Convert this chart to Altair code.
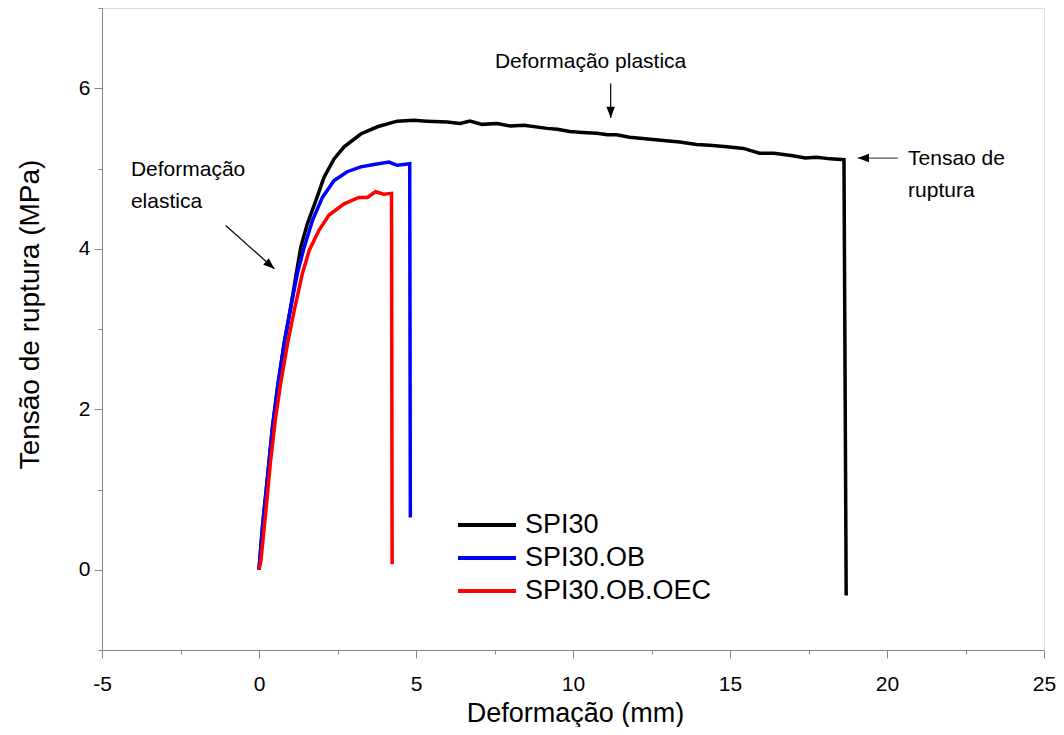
import altair as alt
import pandas as pd

# ---------------- data ----------------
series_names = ["SPI30", "SPI30.OB", "SPI30.OB.OEC"]
series_colors = ["#000000", "#0000ff", "#ff0000"]

spi30_x = [0.0, 0.11, 0.27, 0.43, 0.59, 0.80, 1.01, 1.17, 1.33, 1.54, 1.81, 2.07, 2.39,
           2.71, 3.24, 3.77, 4.40, 4.93, 5.35, 5.99, 6.40, 6.72, 7.10, 7.58, 8.00, 8.44,
           9.17, 9.50, 9.90, 10.30, 10.76, 11.10, 11.39, 11.80, 12.30, 12.88, 13.40,
           13.93, 14.35, 14.90, 15.43, 15.94, 16.40, 17.00, 17.40, 17.75, 18.20, 18.63,
           18.70]
spi30_y = [0.0, 0.53, 1.15, 1.78, 2.27, 2.82, 3.27, 3.65, 4.02, 4.31, 4.60, 4.89, 5.12,
           5.27, 5.43, 5.52, 5.59, 5.60, 5.59, 5.58, 5.56, 5.59, 5.55, 5.56, 5.53, 5.54,
           5.50, 5.49, 5.46, 5.45, 5.44, 5.42, 5.42, 5.39, 5.37, 5.35, 5.33,
           5.30, 5.29, 5.27, 5.25, 5.19, 5.19, 5.16, 5.13, 5.14, 5.12, 5.11,
           -0.32]

spi30ob_x = [0.0, 0.11, 0.27, 0.43, 0.59, 0.80, 1.01, 1.22, 1.44, 1.70, 2.02, 2.39, 2.81,
             3.24, 3.66, 4.14, 4.40, 4.80, 4.82]
spi30ob_y = [0.0, 0.53, 1.15, 1.78, 2.27, 2.82, 3.27, 3.69, 4.02, 4.35, 4.64, 4.85, 4.96,
             5.02, 5.05, 5.08, 5.04, 5.06, 0.65]

spi30oboec_x = [0.0, 0.06, 0.22, 0.37, 0.53, 0.69, 0.91, 1.12, 1.38, 1.60, 1.91, 2.23,
                2.71, 3.18, 3.45, 3.71, 3.98, 4.22, 4.24]
spi30oboec_y = [0.0, 0.11, 0.74, 1.36, 1.90, 2.32, 2.82, 3.23, 3.69, 3.98, 4.23, 4.42,
                4.56, 4.64, 4.64, 4.71, 4.68, 4.69, 0.07]

x_ticks = [-5, -2.5, 0, 2.5, 5, 7.5, 10, 12.5, 15, 17.5, 20, 22.5, 25]
y_ticks = [-1, 0, 1, 2, 3, 4, 5, 6, 7]

# annotations (data coordinates)
note_elastic = ["Deformação", "elastica"]
note_elastic_x = [-4.08, -4.08]
note_elastic_y = [4.98, 4.58]
note_plastic = ["Deformação plastica"]
note_plastic_x = [10.56]
note_plastic_y = [6.33]
note_rupture = ["Tensao de", "ruptura"]
note_rupture_x = [20.67, 20.67]
note_rupture_y = [5.12, 4.72]

# arrows: start (x, y) -> tip (x2, y2)
arrow_x = [-1.06, 11.2, 20.35]
arrow_y = [4.29, 6.06, 5.13]
arrow_x2 = [0.49, 11.2, 19.07]
arrow_y2 = [3.75, 5.63, 5.13]

# ---------------- tables ----------------
rows = []
for name, xs, ys in zip(series_names,
                        [spi30_x, spi30ob_x, spi30oboec_x],
                        [spi30_y, spi30ob_y, spi30oboec_y]):
    for i, (a, b) in enumerate(zip(xs, ys)):
        rows.append({"serie": name, "x": a, "y": b, "i": i})
df = pd.DataFrame(rows)

xscale = alt.Scale(domain=[-5, 25], nice=False, zero=False)
yscale = alt.Scale(domain=[-1, 7], nice=False, zero=False)

FONT = "Liberation Sans"

x_axis = alt.Axis(
    values=x_ticks,
    grid=False,
    title="Deformação (mm)",
    labelExpr="datum.value % 5 === 0 ? '' + datum.value : ''",
    tickSize={"condition": {"test": "datum.value % 5 !== 0", "value": 4}, "value": 8},
    labelPadding=15,
    labelFlush=False,
    labelOverlap=False,
    labelFontSize=21,
    labelFont=FONT,
    titleFont=FONT,
    titleFontWeight="normal",
    titleFontSize=27,
    titleX=473,
    titleY=63,
    titleBaseline="middle",
    titleAlign="center",
)
y_axis = alt.Axis(
    values=y_ticks,
    grid=False,
    title="Tensão de ruptura (MPa)",
    labelExpr="datum.value % 2 === 0 ? '' + datum.value : ''",
    tickSize={"condition": {"test": "datum.value % 2 !== 0", "value": 4}, "value": 8},
    labelPadding=4,
    labelFlush=False,
    labelOverlap=False,
    labelFontSize=21,
    labelFont=FONT,
    titleFont=FONT,
    titleFontWeight="normal",
    titleFontSize=28,
    titleX=-72,
    titleY=306,
    titleBaseline="middle",
    titleAlign="center",
    titleAngle=-90,
)

lines = alt.Chart(df).mark_line(strokeWidth=3.5, clip=True).encode(
    x=alt.X("x:Q", scale=xscale, axis=x_axis),
    y=alt.Y("y:Q", scale=yscale, axis=y_axis),
    color=alt.Color(
        "serie:N",
        scale=alt.Scale(domain=series_names, range=series_colors),
        legend=alt.Legend(
            orient="none", legendX=365, legendY=497, title=None,
            symbolType="M-1.61,0H1.61", symbolStrokeWidth=4, symbolSize=1296,
            symbolFillColor="transparent",
            labelFontSize=27, labelFont=FONT, labelOffset=18, padding=0,
            rowPadding=0, labelLimit=400,
        ),
    ),
    order="i:Q",
)

layers = [lines]


def text_layer(texts, xs, ys, align):
    d = pd.DataFrame({"t": texts, "x": xs, "y": ys})
    return alt.Chart(d).mark_text(align=align, baseline="middle", fontSize=21,
                                  font=FONT, color="black").encode(
        x=alt.X("x:Q", scale=xscale), y=alt.Y("y:Q", scale=yscale), text="t:N")


layers.append(text_layer(note_elastic, note_elastic_x, note_elastic_y, "left"))
layers.append(text_layer(note_plastic, note_plastic_x, note_plastic_y, "center"))
layers.append(text_layer(note_rupture, note_rupture_x, note_rupture_y, "left"))

arrow_df = pd.DataFrame({"x": arrow_x, "y": arrow_y, "x2": arrow_x2, "y2": arrow_y2})
arrow_colors = ["black", "black", "#555555"]
arrow_angles = [131, 180, 270]
head_shape = "M0,0L-0.38,1L0.38,1Z"
for k in range(3):
    one = arrow_df.iloc[[k]]
    layers.append(alt.Chart(one).mark_rule(color=arrow_colors[k], strokeWidth=1.2).encode(
        x=alt.X("x:Q", scale=xscale), y=alt.Y("y:Q", scale=yscale),
        x2="x2:Q", y2="y2:Q"))
    layers.append(alt.Chart(one).mark_point(shape=head_shape, filled=True, color="black",
                                            size=500, angle=arrow_angles[k], opacity=1).encode(
        x=alt.X("x2:Q", scale=xscale), y=alt.Y("y2:Q", scale=yscale)))

chart = alt.layer(*layers).properties(
    width=942, height=642,
    padding={"left": 94, "top": 0, "right": 12, "bottom": 77},
    autosize=alt.AutoSizeParams(type="none"),
).configure_view(
    stroke="black", strokeWidth=1.5
).configure_axis(
    grid=False, domainColor="black", domainWidth=1.5, tickColor="black", tickWidth=1.5,
    labelColor="black", titleColor="black",
).configure(background="white")

chart.save("out.html", embed_options={"renderer": "svg", "actions": False})
